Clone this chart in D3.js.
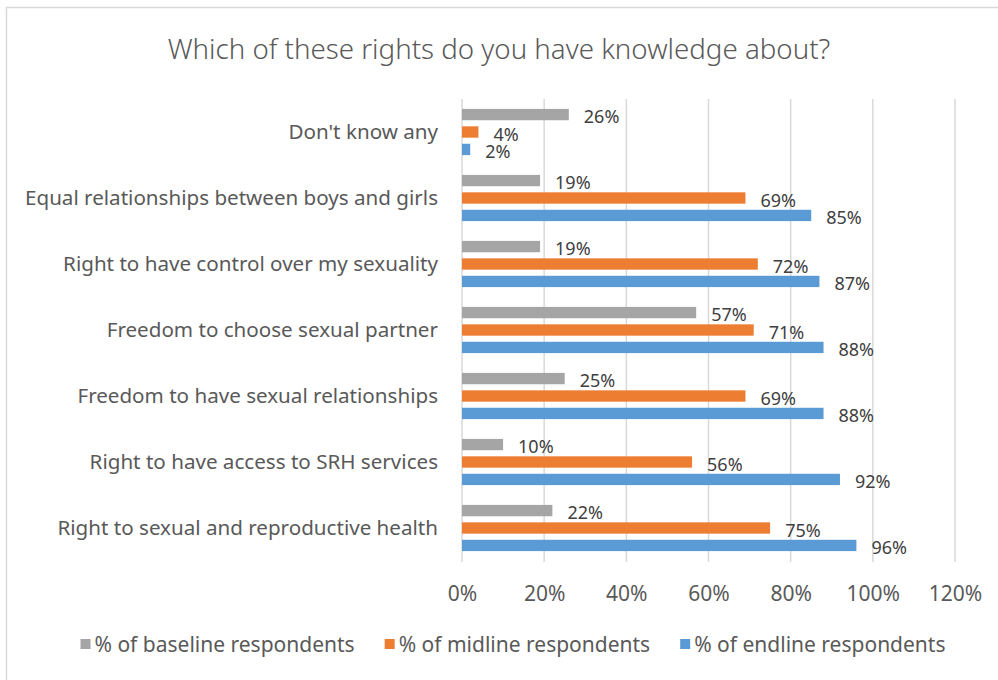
<!DOCTYPE html>
<html>
<head>
<meta charset="utf-8">
<script src="https://cdn.jsdelivr.net/npm/d3@7"></script>
<style>
  html, body { margin: 0; padding: 0; background: #fff; }
  svg { display: block; font-family: "Noto Sans", "Open Sans", sans-serif; }
</style>
</head>
<body>
<svg id="chart" width="998" height="680"></svg>
<script>
// Survey answers: share of respondents who know about each right
const categories = [
  "Don't know any",
  "Equal relationships between boys and girls",
  "Right to have control over my sexuality",
  "Freedom to choose sexual partner",
  "Freedom to have sexual relationships",
  "Right to have access to SRH services",
  "Right to sexual and reproductive health"
];
const seriesNames = [
  "% of baseline respondents",
  "% of midline respondents",
  "% of endline respondents"
];
const baseline = [0.26, 0.19, 0.19, 0.57, 0.25, 0.10, 0.22];
const midline  = [0.04, 0.69, 0.72, 0.71, 0.69, 0.56, 0.75];
const endline  = [0.02, 0.85, 0.87, 0.88, 0.88, 0.92, 0.96];
const xTicks = [0, 0.2, 0.4, 0.6, 0.8, 1.0, 1.2];

const seriesValues = [baseline, midline, endline];
const colors = ["#A5A5A5", "#ED7D31", "#5B9BD5"];

const svg = d3.select("#chart");
const plot = { left: 462, right: 955, top: 99, bottom: 561 };

// chart frame
svg.append("rect")
  .attr("x", 6.5).attr("y", 7.5)
  .attr("width", 1000).attr("height", 700)
  .attr("fill", "#fff").attr("stroke", "#D9D9D9").attr("stroke-width", 1.5);

// title
svg.append("text")
  .attr("x", 499).attr("y", 48)
  .attr("text-anchor", "middle").attr("dominant-baseline", "central")
  .attr("font-size", 27.7).attr("font-weight", 300)
  .attr("fill", "#595959")
  .text("Which of these rights do you have knowledge about?");

const x = d3.scaleLinear().domain([0, 1.2]).range([plot.left, plot.right]);
const y = d3.scaleBand().domain(categories)
  .range([plot.top, plot.bottom]).paddingInner(0.3).paddingOuter(0.15);
const ySub = d3.scaleBand().domain(d3.range(seriesNames.length))
  .range([0, y.bandwidth()]).paddingInner(0.35);

// vertical gridlines
svg.append("g").selectAll("line").data(xTicks).join("line")
  .attr("x1", d => x(d)).attr("x2", d => x(d))
  .attr("y1", plot.top).attr("y2", plot.bottom + 1)
  .attr("stroke", "#D9D9D9").attr("stroke-width", 1.5);

// x axis tick labels
const xAxis = d3.axisBottom(x).tickValues(xTicks)
  .tickFormat(d3.format(".0%")).tickSize(0).tickPadding(0);
const gx = svg.append("g").attr("transform", `translate(0,${plot.bottom + 32})`).call(xAxis);
gx.select(".domain").remove();
gx.selectAll("text")
  .attr("font-size", 21).attr("fill", "#595959")
  .attr("font-family", "Noto Sans, sans-serif")
  .attr("dy", null).attr("y", 0).attr("dominant-baseline", "central");

// category labels
const yAxis = d3.axisLeft(y).tickSize(0).tickPadding(24);
const gy = svg.append("g").attr("transform", `translate(${plot.left},0)`).call(yAxis);
gy.select(".domain").remove();
gy.selectAll("text")
  .attr("font-size", 20.6).attr("fill", "#595959")
  .attr("font-family", "Noto Sans, sans-serif");

// bars + value labels
const rows = [];
categories.forEach((c, i) => {
  seriesValues.forEach((vals, s) => rows.push({ cat: c, s, v: vals[i] }));
});

svg.append("g").selectAll("rect").data(rows).join("rect")
  .attr("x", x(0))
  .attr("y", d => y(d.cat) + ySub(d.s))
  .attr("width", d => x(d.v) - x(0))
  .attr("height", ySub.bandwidth())
  .attr("fill", d => colors[d.s]);

svg.append("g").selectAll("text").data(rows).join("text")
  .attr("x", d => x(d.v) + 15)
  .attr("y", d => y(d.cat) + ySub(d.s) + ySub.bandwidth() / 2 + 1.5)
  .attr("dominant-baseline", "central")
  .attr("font-size", 18).attr("fill", "#404040")
  .text(d => d3.format(".0%")(d.v));

// legend, laid out left to right and centred
const legend = svg.append("g");
const items = legend.selectAll("g").data(seriesNames).join("g");
items.append("rect").attr("width", 10).attr("height", 10).attr("y", -5)
  .attr("fill", (d, i) => colors[i]);
items.append("text").attr("x", 14).attr("dominant-baseline", "central")
  .attr("font-size", 21).attr("fill", "#595959").text(d => d);
let cx = 0;
const gap = 30;
items.each(function () {
  const w = 14 + this.querySelector("text").getComputedTextLength();
  d3.select(this).attr("transform", `translate(${cx},0)`);
  cx += w + gap;
});
const total = cx - gap;
legend.attr("transform", `translate(${513 - total / 2},644)`);
</script>
</body>
</html>
